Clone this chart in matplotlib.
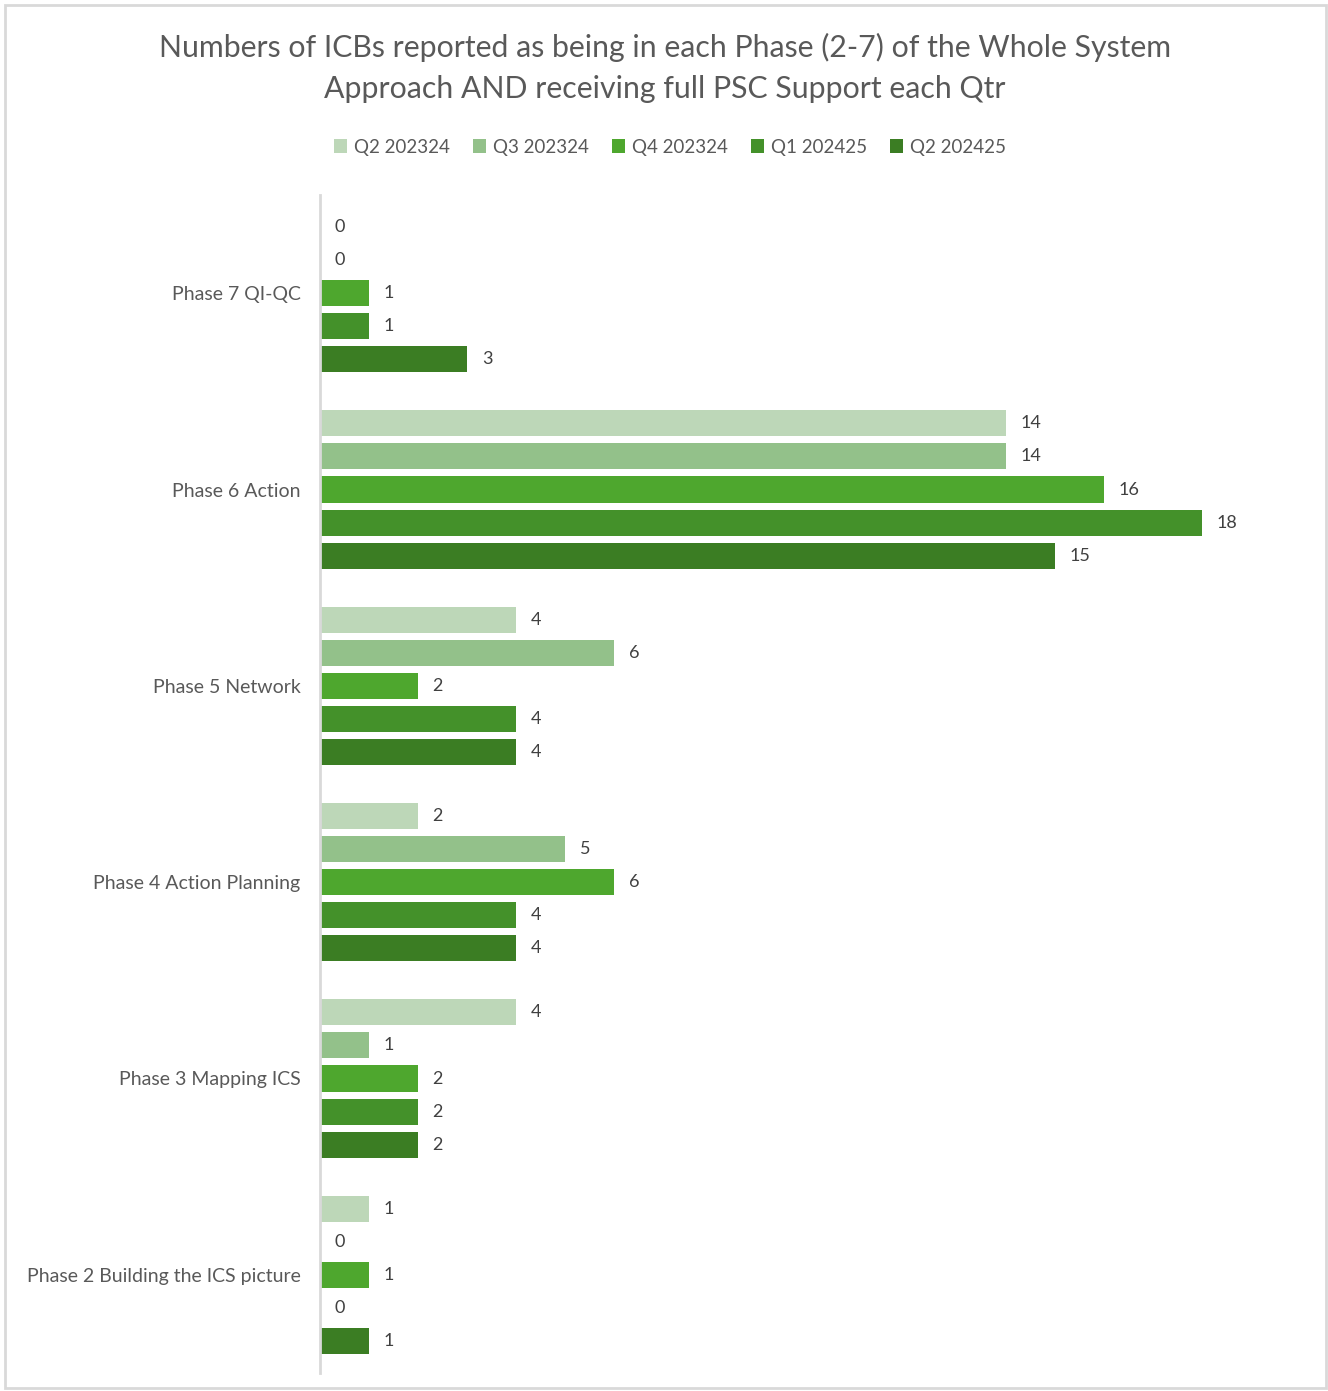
import matplotlib.pyplot as plt
from matplotlib.patches import Rectangle

phases = ['Phase 2 Building the ICS picture', 'Phase 3 Mapping ICS', 'Phase 4 Action Planning',
          'Phase 5 Network', 'Phase 6 Action', 'Phase 7 QI-QC']
quarters = ['Q2 202324', 'Q3 202324', 'Q4 202324', 'Q1 202425', 'Q2 202425']
q2_2324 = [1, 4, 2, 4, 14, 0]
q3_2324 = [0, 1, 5, 6, 14, 0]
q4_2324 = [1, 2, 6, 2, 16, 1]
q1_2425 = [0, 2, 4, 4, 18, 1]
q2_2425 = [1, 2, 4, 4, 15, 3]
colors = ['#BDD7B8', '#93C18A', '#4EA72E', '#44912A', '#3B7D23']

series = [q2_2324, q3_2324, q4_2324, q1_2425, q2_2425]

plt.rcParams['font.family'] = ['Lato', 'DejaVu Sans']
fig = plt.figure(figsize=(13.28, 13.91), dpi=100)
W, H = 1328, 1391
ax = fig.add_axes([320 / W, 1 - 1373 / H, (1300 - 320) / W, (1373 - 195) / H])

step = 0.1685
for j, vals in enumerate(series):
    ys = [i + (2 - j) * step for i in range(len(phases))]
    ax.barh(ys, vals, height=0.133, color=colors[j], label=quarters[j])
    for y, v in zip(ys, vals):
        ax.text(v + 0.3, y, str(v), va='center', ha='left', fontsize=13, color='#404040')

ax.set_xlim(0, 20)
ax.set_ylim(-0.5, 5.5)
ax.set_yticks(range(len(phases)))
ax.set_yticklabels(phases, fontsize=14, color='#595959')
ax.tick_params(axis='y', length=0, pad=14)
ax.set_xticks([])
for s in ['top', 'right', 'bottom']:
    ax.spines[s].set_visible(False)
ax.spines['left'].set_color('#D9D9D9')
ax.spines['left'].set_linewidth(2)

fig.text(665 / W, 1 - 68 / H, 'Numbers of ICBs reported as being in each Phase (2-7) of the Whole System\nApproach AND receiving full PSC Support each Qtr',
         ha='center', va='center', fontsize=21.8, color='#595959', linespacing=1.6)

fig.legend(loc='center', bbox_to_anchor=(670 / W, 1 - 147 / H), ncol=5, frameon=False,
           fontsize=13.5, handlelength=0.7, handleheight=0.7, handletextpad=0.4,
           columnspacing=1.2, labelcolor='#595959')

fig.patches.append(Rectangle((5 / W, 3 / H), 1321 / W, 1383 / H, transform=fig.transFigure,
                             fill=False, edgecolor='#D9D9D9', linewidth=2))

fig.savefig('out.png', dpi=100)
